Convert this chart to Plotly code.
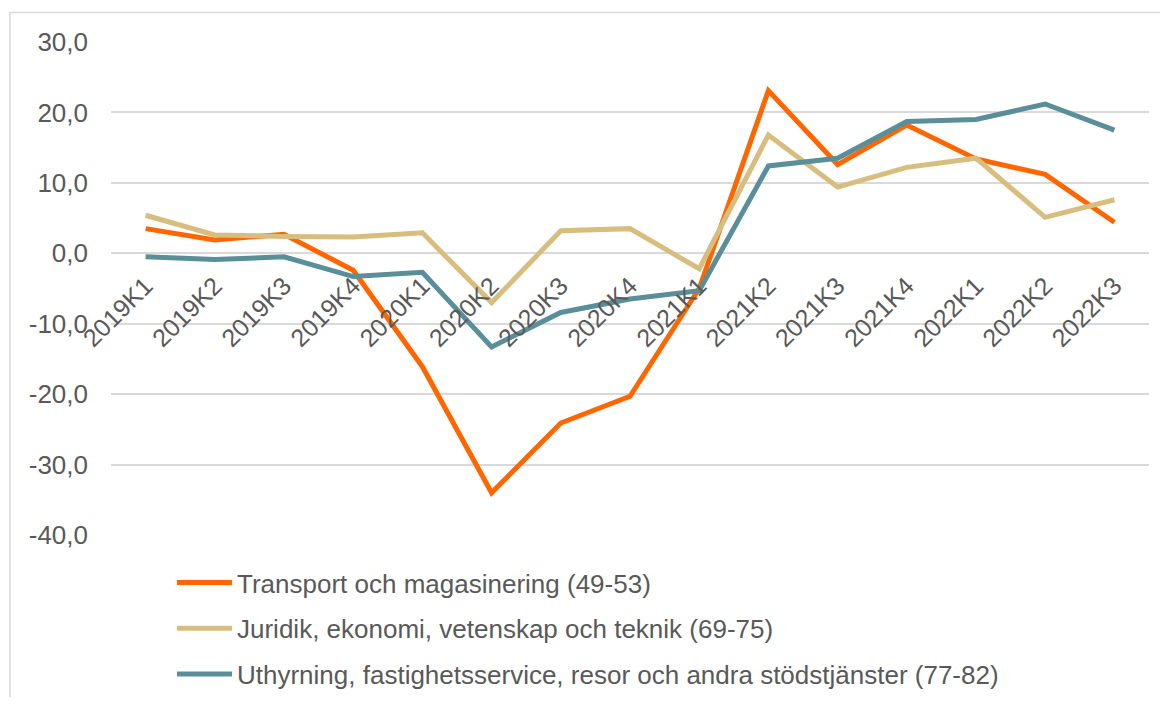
import plotly.graph_objects as go

categories = ["2019K1", "2019K2", "2019K3", "2019K4", "2020K1", "2020K2", "2020K3", "2020K4",
              "2021K1", "2021K2", "2021K3", "2021K4", "2022K1", "2022K2", "2022K3"]
transport = [3.5, 1.9, 2.7, -2.4, -16.1, -34.0, -24.1, -20.3, -5.0, 23.1, 12.6, 18.2, 13.4, 11.2, 4.4]
juridik = [5.4, 2.6, 2.4, 2.3, 2.9, -7.0, 3.2, 3.5, -2.2, 16.8, 9.4, 12.2, 13.5, 5.1, 7.6]
uthyrning = [-0.5, -0.9, -0.5, -3.3, -2.7, -13.3, -8.4, -6.5, -5.3, 12.4, 13.5, 18.7, 19.0, 21.2, 17.5]

y_tickvals = [-40, -30, -20, -10, 0, 10, 20, 30]
y_ticktext = ["-40,0", "-30,0", "-20,0", "-10,0", "0,0", "10,0", "20,0", "30,0"]

names = ["Transport och magasinering (49-53)",
         "Juridik, ekonomi, vetenskap och teknik (69-75)",
         "Uthyrning, fastighetsservice, resor och andra stödstjänster (77-82)"]
colors = ["#FF6600", "#D7BD7E", "#5A8E98"]
series = [transport, juridik, uthyrning]

FONT = "Liberation Sans, Arial, sans-serif"
TXT = "#595959"

fig = go.Figure()
for i, (nm, col, vals) in enumerate(zip(names, colors, series)):
    fig.add_trace(go.Scatter(x=categories, y=vals, name=nm, mode="lines",
                             line=dict(color=col, width=5), legendgroup=f"g{i}"))

# page body has an 8px margin; work in screen coordinates and compensate
OFF = 8
W, H = 1168 - 2 * OFF, 705 - 2 * OFF
plot_l, plot_r, plot_t, plot_b = 111, 1149, 41.5, 535  # screen px
ml = plot_l - OFF
mr = W - (plot_r - OFF)
mt = plot_t - OFF
mb = H - (plot_b - OFF)
pw, ph = plot_r - plot_l, plot_b - plot_t

def px_x(p):
    return (p - plot_l) / pw

def px_y(p):
    return (plot_b - p) / ph

ymin, ymax = -40, 30

fig.update_layout(
    width=W, height=H,
    margin=dict(l=ml, r=mr, t=mt, b=mb, autoexpand=False),
    paper_bgcolor="white", plot_bgcolor="white",
    font=dict(family=FONT, color=TXT, size=26),
    showlegend=True,
    legend=dict(x=px_x(172), y=px_y(559), xanchor="left", yanchor="top",
                font=dict(family=FONT, size=26, color=TXT), itemwidth=55,
                tracegroupgap=9, bgcolor="rgba(0,0,0,0)"),
    xaxis=dict(type="category", range=[-0.5, len(categories) - 0.5],
               anchor="free", position=(0 - ymin) / (ymax - ymin),
               showgrid=False, showline=False, zeroline=False, ticks="",
               tickangle=-45, ticklabelstandoff=12,
               tickfont=dict(family=FONT, size=25, color=TXT)),
    yaxis=dict(range=[ymin, ymax], tickmode="array", tickvals=y_tickvals, ticktext=y_ticktext,
               showgrid=True, gridcolor="#D9D9D9", gridwidth=1.5,
               zeroline=True, zerolinecolor="#D9D9D9", zerolinewidth=1.5,
               showline=False, ticks="", ticklabelstandoff=22,
               tickfont=dict(family=FONT, size=26, color=TXT)),
)

fig.add_shape(type="rect", xref="paper", yref="paper",
              x0=px_x(10), x1=px_x(1180), y0=px_y(720), y1=px_y(12),
              line=dict(color="#D9D9D9", width=1.5), fillcolor="rgba(0,0,0,0)", layer="below")

fig.write_html("out.html")
